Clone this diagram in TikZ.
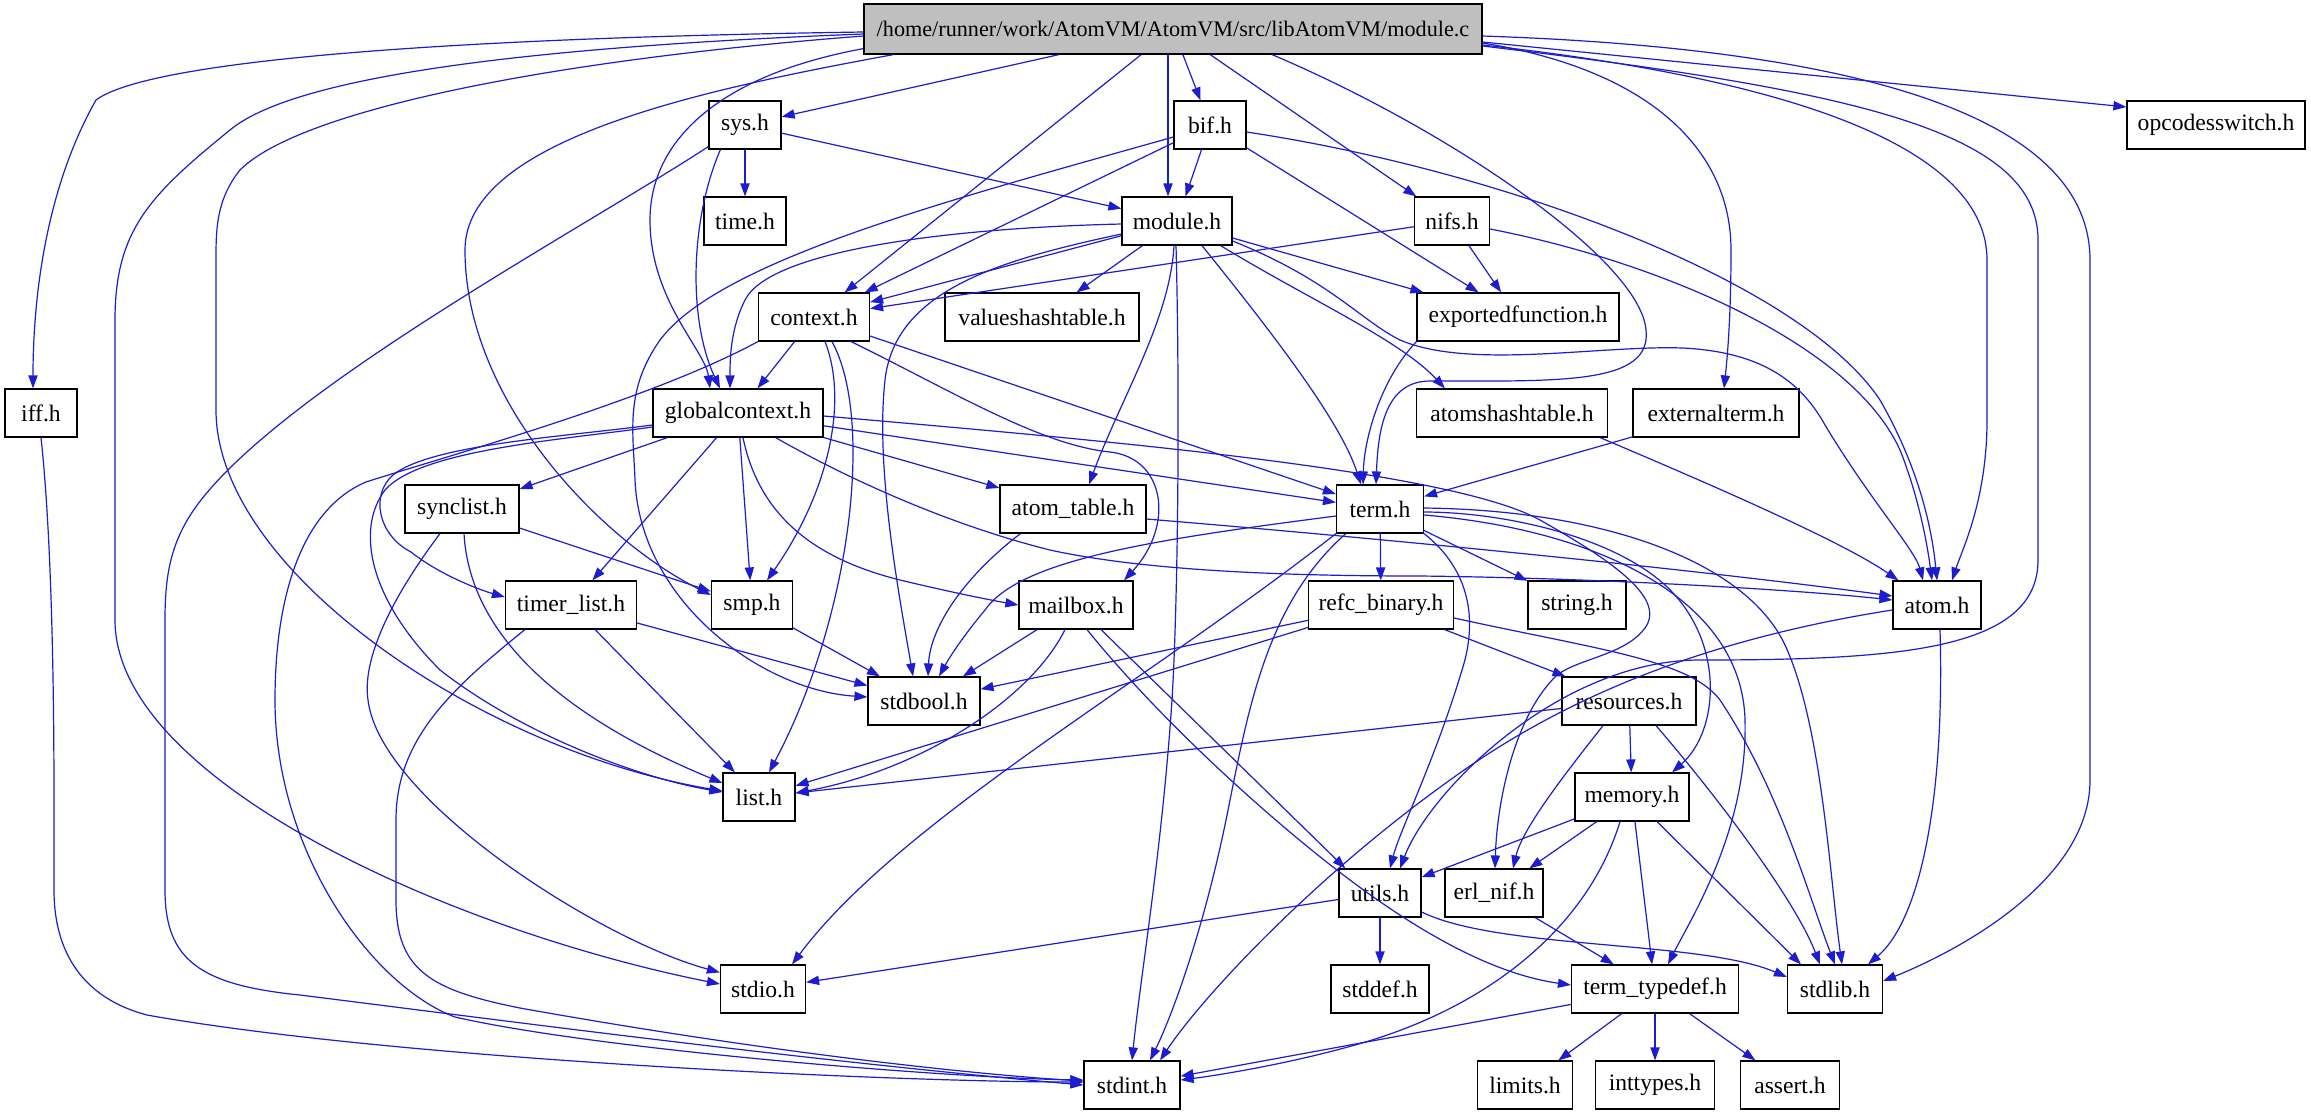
\documentclass[tikz,border=0pt]{standalone}
\usepackage{fontspec}
\setmainfont{Liberation Serif}
\usetikzlibrary{arrows.meta,calc}
\definecolor{eb}{RGB}{28,28,208}
\definecolor{maingray}{RGB}{191,191,191}
\begin{document}
\begin{tikzpicture}[x=0.5pt,y=-0.5pt,
  nb/.style={draw=black, line width=0.6pt, fill=white, minimum height=24pt, inner sep=0pt, font=\fontsize{11.8}{14}\selectfont},
  e/.style={draw=eb, line width=0.6pt, -{Triangle[length=6.5pt,width=4.6pt]}, fill=none}]
\fill[white] (0,0) rectangle (2311,1115);
\useasboundingbox (0,0) rectangle (2311,1115);
% nodes
\node[nb, fill=maingray, minimum width=309pt, minimum height=25pt, font=\fontsize{11.1}{14}\selectfont] (main) at (1173,29) {/home/runner/work/AtomVM/AtomVM/src/libAtomVM/module.c};
\node[nb, minimum width=36pt] (sys) at (745,125) {sys.h};
\node[nb, minimum width=36pt] (bif) at (1210,125) {bif.h};
\node[nb, minimum width=89pt] (opcodesswitch) at (2216,125) {opcodesswitch.h};
\node[nb, minimum width=41pt] (time) at (745,221) {time.h};
\node[nb, minimum width=55pt] (module) at (1177,221) {module.h};
\node[nb, minimum width=37.5pt] (nifs) at (1452,221) {nifs.h};
\node[nb, minimum width=55.5pt] (context) at (814,317) {context.h};
\node[nb, minimum width=97pt] (valueshashtable) at (1042,317) {valueshashtable.h};
\node[nb, minimum width=101pt] (exportedfunction) at (1518,317) {exportedfunction.h};
\node[nb, minimum width=36pt] (iff) at (41,413) {iff.h};
\node[nb, minimum width=85pt] (globalcontext) at (738,413) {globalcontext.h};
\node[nb, minimum width=95.5pt] (atomshashtable) at (1512,413) {atomshashtable.h};
\node[nb, minimum width=83pt] (externalterm) at (1716,413) {externalterm.h};
\node[nb, minimum width=57pt] (synclist) at (462,509) {synclist.h};
\node[nb, minimum width=73pt] (atom_table) at (1073,509) {atom\_table.h};
\node[nb, minimum width=43.5pt] (term) at (1380,509) {term.h};
\node[nb, minimum width=65.5pt] (timer_list) at (571,605) {timer\_list.h};
\node[nb, minimum width=40.5pt] (smp) at (752,605) {smp.h};
\node[nb, minimum width=57pt] (mailbox) at (1076,605) {mailbox.h};
\node[nb, minimum width=72.5pt] (refc_binary) at (1381,605) {refc\_binary.h};
\node[nb, minimum width=49pt] (string) at (1577,605) {string.h};
\node[nb, minimum width=44pt] (atom) at (1937,605) {atom.h};
\node[nb, minimum width=56pt] (stdbool) at (924,701) {stdbool.h};
\node[nb, minimum width=67pt] (resources) at (1629,701) {resources.h};
\node[nb, minimum width=36pt] (list) at (759,797) {list.h};
\node[nb, minimum width=57pt] (memory) at (1632,797) {memory.h};
\node[nb, minimum width=41pt] (utils) at (1380,893) {utils.h};
\node[nb, minimum width=49pt] (erl_nif) at (1494,893) {erl\_nif.h};
\node[nb, minimum width=42.5pt] (stdio) at (763,989) {stdio.h};
\node[nb, minimum width=49pt] (stddef) at (1380,989) {stddef.h};
\node[nb, minimum width=83.5pt] (term_typedef) at (1655,989) {term\_typedef.h};
\node[nb, minimum width=47.5pt] (stdlib) at (1835,989) {stdlib.h};
\node[nb, minimum width=48pt] (stdint) at (1132,1085) {stdint.h};
\node[nb, minimum width=47.5pt] (limits) at (1525,1085) {limits.h};
\node[nb, minimum width=59.5pt] (inttypes) at (1655,1085) {inttypes.h};
\node[nb, minimum width=49.5pt] (assert) at (1790,1085) {assert.h};
% edges from main
\draw[e] ($(main.west)+(0,3)$) .. controls (450,38) and (150,60) .. (96,100) .. controls (45,190) and (33,300) .. ($(iff.north)+(-8,0)$);
\draw[e] ($(main.west)+(0,5)$) .. controls (500,48) and (290,80) .. (230,130) .. controls (150,195) and (115,230) .. (115,320) -- (115,620) .. controls (115,780) and (450,930) .. ($(stdio.west)+(0,-5)$);
\draw[e] ($(main.west)+(0,7)$) .. controls (550,60) and (300,110) .. (240,170) .. controls (216,200) and (216,230) .. (216,260) -- (216,410) .. controls (216,570) and (480,750) .. ($(list.west)+(0,-6)$);
\draw[e] ($(main.south west)+(30,0)$) .. controls (700,90) and (465,140) .. (465,250) .. controls (465,400) and (600,540) .. ($(smp.west)+(0,-10)$);
\draw[e] ($(main.south west)+(0,-6)$) .. controls (720,75) and (650,140) .. (650,220) .. controls (650,300) and (705,350) .. ($(globalcontext.north)+(-28,0)$);
\draw[e] (main) -- (sys);
\draw[e] (main) -- (context);
\draw[e] (main) -- (bif);
\draw[e] ($(main.south)+(-5,0)$) -- ($(module.north)+(-9,0)$);
\draw[e] (main) -- (nifs);
\draw[e] ($(main.south)+(99,0)$) .. controls (1450,130) and (1640,260) .. (1646,330) .. controls (1652,385) and (1560,381) .. (1430,381) .. controls (1385,381) and (1378,430) .. ($(term.north)+(-4,0)$);
\draw[e] ($(main.east)+(0,14)$) .. controls (1650,70) and (1731,150) .. (1731,250) .. controls (1731,320) and (1727,360) .. ($(externalterm.north)+(8,0)$);
\draw[e] ($(main.east)+(0,13)$) -- ($(opcodesswitch.west)+(0,-18)$);
\draw[e] ($(main.east)+(0,16)$) .. controls (1800,80) and (1987,150) .. (1987,260) -- (1987,420) .. controls (1987,500) and (1962,550) .. ($(atom.north)+(15,0)$);
\draw[e] ($(main.east)+(0,17)$) .. controls (1850,90) and (2038,130) .. (2038,240) -- (2038,560) .. controls (2038,650) and (1900,660) .. (1700,660) .. controls (1560,660) and (1430,790) .. ($(utils.north)+(20,0)$);
\draw[e] ($(main.east)+(0,7)$) .. controls (1900,50) and (2090,130) .. (2090,260) -- (2090,780) .. controls (2090,880) and (1960,950) .. ($(stdlib.east)+(0,-8)$);
% sys
\draw[e] (sys) -- (time);
\draw[e] (sys) -- (module);
\draw[e] ($(sys.south west)+(12,0)$) .. controls (690,220) and (688,320) .. ($(globalcontext.north)+(-18,0)$);
\draw[e] ($(sys.south west)+(0,-3)$) .. controls (580,230) and (300,380) .. (205,495) .. controls (172,535) and (165,570) .. (165,620) -- (165,890) .. controls (165,960) and (200,985) .. (300,995) .. controls (500,1020) and (800,1060) .. (stdint.west);
% bif
\draw[e] (bif) -- (module);
\draw[e] (bif) -- (context);
\draw[e] ($(bif.west)+(0,12)$) .. controls (950,200) and (720,260) .. (660,340) .. controls (625,390) and (633,430) .. (635,480) .. controls (640,600) and (760,690) .. ($(stdbool.west)+(0,-4)$);
\draw[e] (bif) -- (exportedfunction);
\draw[e] ($(bif.east)+(0,7)$) .. controls (1500,170) and (1800,280) .. (1880,400) .. controls (1920,470) and (1932,530) .. (atom.north);
% module
\draw[e] ($(module.west)+(0,3)$) .. controls (950,228) and (770,250) .. (745,300) .. controls (730,330) and (730,360) .. ($(globalcontext.north)+(-8,0)$);
\draw[e] (module) -- (context);
\draw[e] ($(module.west)+(0,13)$) .. controls (1000,260) and (895,290) .. (885,380) .. controls (875,470) and (900,600) .. ($(stdbool.north)+(-11,0)$);
\draw[e] (module) -- (valueshashtable);
\draw[e] ($(module.south)+(-3,0)$) .. controls (1170,320) and (1120,400) .. ($(atom_table.north)+(16,0)$);
\draw[e] ($(module.south)+(-1,0)$) .. controls (1180,400) and (1178,600) .. (1172,700) .. controls (1162,850) and (1140,980) .. (stdint.north);
\draw[e] ($(module.south)+(25,0)$) .. controls (1270,330) and (1340,420) .. ($(term.north)+(-19,0)$);
\draw[e] ($(module.south east)+(-12,0)$) .. controls (1310,300) and (1400,340) .. ($(atomshashtable.north west)+(29,0)$);
\draw[e] ($(module.east)+(0,17)$) -- ($(exportedfunction.north west)+(7,0)$);
\draw[e] ($(module.east)+(0,20)$) .. controls (1330,280) and (1360,320) .. (1400,340) .. controls (1470,370) and (1600,345) .. (1683,348) .. controls (1760,352) and (1800,380) .. (1825,425) .. controls (1870,500) and (1915,550) .. ($(atom.north)+(-14,0)$);
% nifs
\draw[e] (nifs) -- (context);
\draw[e] (nifs) -- (exportedfunction);
\draw[e] ($(nifs.east)+(0,8)$) .. controls (1650,260) and (1850,340) .. (1900,450) .. controls (1920,500) and (1928,550) .. ($(atom.north)+(-5,0)$);
% context
\draw[e] (context) -- (globalcontext);
\draw[e] (context.south west) .. controls (650,400) and (450,455) .. (366,482) .. controls (300,510) and (275,600) .. (275,700) .. controls (275,850) and (370,985) .. (455,1017) .. controls (600,1050) and (950,1078) .. ($(stdint.west)+(0,-5)$);
\draw[e] ($(context.south)+(11,0)$) .. controls (848,400) and (830,490) .. ($(smp.north)+(15,0)$);
\draw[e] ($(context.south)+(18,0)$) .. controls (875,420) and (850,620) .. ($(list.north)+(10,0)$);
\draw[e] ($(context.south east)+(-19,0)$) .. controls (950,390) and (1040,445) .. (1110,452) .. controls (1165,458) and (1175,525) .. ($(mailbox.north)+(48,0)$);
\draw[e] (context) -- (term);
% exportedfunction, atomshashtable, externalterm, iff
\draw[e] (exportedfunction.south west) .. controls (1380,380) and (1364,440) .. ($(term.north)+(-17,0)$);
\draw[e] ($(atomshashtable.south east)+(-8,0)$) .. controls (1700,480) and (1840,540) .. ($(atom.north west)+(6,0)$);
\draw[e] (externalterm) -- (term);
\draw[e] (iff.south) .. controls (50,520) and (54,650) .. (54,800) -- (54,890) .. controls (54,960) and (90,1000) .. (147,1015) .. controls (400,1060) and (900,1082) .. ($(stdint.west)+(0,-3)$);
% globalcontext
\draw[e] (globalcontext) -- (synclist);
\draw[e] (globalcontext) -- (timer_list);
\draw[e] (globalcontext) -- (smp);
\draw[e] ($(globalcontext.south)+(5,0)$) .. controls (760,520) and (820,560) .. (900,580) .. controls (950,592) and (990,600) .. (mailbox.west);
\draw[e] (globalcontext) -- (atom_table);
\draw[e] ($(globalcontext.south east)+(-48,0)$) .. controls (850,480) and (950,525) .. (1050,550) .. controls (1150,572) and (1300,576) .. (1420,576) .. controls (1600,578) and (1800,590) .. ($(atom.west)+(0,-5)$);
\draw[e] (globalcontext) -- (term);
\draw[e] ($(globalcontext.east)+(0,3)$) .. controls (1100,440) and (1450,470) .. (1540,520) .. controls (1620,565) and (1665,600) .. (1645,628) .. controls (1625,655) and (1580,658) .. (1557,675) .. controls (1515,715) and (1497,800) .. ($(erl_nif.north)+(1,0)$);
\draw[e] ($(globalcontext.west)+(0,14)$) .. controls (560,440) and (420,450) .. (385,490) .. controls (355,530) and (370,600) .. (440,670) .. controls (530,740) and (650,780) .. ($(list.west)+(0,-5)$);
\draw[e] ($(globalcontext.west)+(0,12)$) .. controls (560,437) and (430,445) .. (393,475) .. controls (370,495) and (378,535) .. (411,552) .. controls (440,575) and (480,590) .. ($(timer_list.west)+(0,-8)$);
% synclist
\draw[e] (synclist) -- (smp);
\draw[e] ($(synclist.south)+(2,0)$) .. controls (470,640) and (570,720) .. ($(list.west)+(0,-14)$);
\draw[e] ($(synclist.south)+(-22,0)$) .. controls (390,600) and (362,660) .. (368,700) .. controls (380,800) and (600,940) .. ($(stdio.north west)+(0,8)$);
% atom_table
\draw[e] ($(atom_table.south west)+(21,0)$) .. controls (960,580) and (930,630) .. ($(stdbool.north)+(4,0)$);
\draw[e] ($(atom_table.east)+(0,10)$) .. controls (1400,540) and (1700,570) .. ($(atom.west)+(0,-9)$);
% term
\draw[e] (term) -- (refc_binary);
\draw[e] (term) -- (string);
\draw[e] ($(term.west)+(0,7)$) .. controls (1150,540) and (1020,560) .. (985,610) .. controls (960,640) and (948,660) .. ($(stdbool.north)+(15,0)$);
\draw[e] (term.south west) .. controls (1150,680) and (900,820) .. ($(stdio.north)+(29,0)$);
\draw[e] ($(term.south west)+(10,0)$) .. controls (1270,600) and (1250,700) .. (1230,800) .. controls (1205,930) and (1170,1020) .. ($(stdint.north)+(18,0)$);
\draw[e] (term.south east) .. controls (1470,570) and (1478,620) .. (1462,670) .. controls (1435,760) and (1400,830) .. ($(utils.north)+(10,0)$);
\draw[e] ($(term.east)+(0,3)$) .. controls (1500,512) and (1610,535) .. (1665,585) .. controls (1725,640) and (1720,730) .. ($(memory.north)+(40,0)$);
\draw[e] ($(term.east)+(0,6)$) .. controls (1600,530) and (1742,600) .. (1745,720) .. controls (1748,830) and (1690,920) .. ($(term_typedef.north)+(13,0)$);
\draw[e] ($(term.east)+(0,-1)$) .. controls (1600,510) and (1745,560) .. (1785,645) .. controls (1822,725) and (1830,880) .. ($(stdlib.north)+(7,0)$);
% timer_list, smp
\draw[e] (timer_list) -- (stdbool);
\draw[e] (timer_list) -- (list);
\draw[e] ($(timer_list.south west)+(20,0)$) .. controls (450,690) and (396,740) .. (396,820) -- (396,900) .. controls (396,970) and (430,990) .. (520,1008) .. controls (800,1058) and (1000,1076) .. ($(stdint.west)+(0,-4)$);
\draw[e] (smp) -- (stdbool);
% mailbox
\draw[e] (mailbox) -- (stdbool);
\draw[e] ($(mailbox.south)+(-11,0)$) .. controls (1030,700) and (920,770) .. ($(list.east)+(0,-4)$);
\draw[e] ($(mailbox.south)+(25,0)$) -- ($(utils.north west)+(7,0)$);
\draw[e] ($(mailbox.south)+(11,0)$) .. controls (1160,720) and (1270,820) .. (1350,880) .. controls (1430,940) and (1500,975) .. ($(term_typedef.west)+(0,-4)$);
% refc_binary
\draw[e] (refc_binary) -- (stdbool);
\draw[e] (refc_binary) -- (list);
\draw[e] (refc_binary) -- (resources);
\draw[e] ($(refc_binary.east)+(0,13)$) .. controls (1600,650) and (1690,660) .. (1720,700) .. controls (1780,790) and (1810,900) .. (stdlib.north);
% resources
\draw[e] (resources) -- (list);
\draw[e] (resources) -- (memory);
\draw[e] ($(resources.south)+(-26,0)$) .. controls (1560,780) and (1522,830) .. ($(erl_nif.north)+(19,0)$);
\draw[e] ($(resources.south)+(27,0)$) .. controls (1720,800) and (1795,900) .. ($(stdlib.north)+(-15,0)$);
% memory
\draw[e] (memory) -- (utils);
\draw[e] (memory) -- (erl_nif);
\draw[e] (memory) -- (term_typedef);
\draw[e] ($(memory.south)+(25,0)$) -- ($(stdlib.north)+(-34,0)$);
\draw[e] ($(memory.south)+(-12,0)$) .. controls (1590,920) and (1500,1000) .. (1372,1040) .. controls (1300,1062) and (1220,1075) .. ($(stdint.east)+(0,-5)$);
% utils, erl_nif
\draw[e] (utils) -- (stdio);
\draw[e] (utils) -- (stddef);
\draw[e] ($(utils.east)+(0,19)$) .. controls (1500,950) and (1700,940) .. ($(stdlib.west)+(0,-12)$);
\draw[e] (erl_nif) -- (term_typedef);
% term_typedef
\draw[e] (term_typedef) -- (stdint);
\draw[e] (term_typedef) -- (limits);
\draw[e] (term_typedef) -- (inttypes);
\draw[e] (term_typedef) -- (assert);
% atom
\draw[e] ($(atom.west)+(0,5)$) .. controls (1700,640) and (1560,700) .. (1450,780) .. controls (1310,880) and (1200,1000) .. ($(stdint.north)+(28,0)$);
\draw[e] ($(atom.south)+(3,0)$) .. controls (1945,800) and (1920,920) .. ($(stdlib.north)+(33,0)$);
\end{tikzpicture}
\end{document}
